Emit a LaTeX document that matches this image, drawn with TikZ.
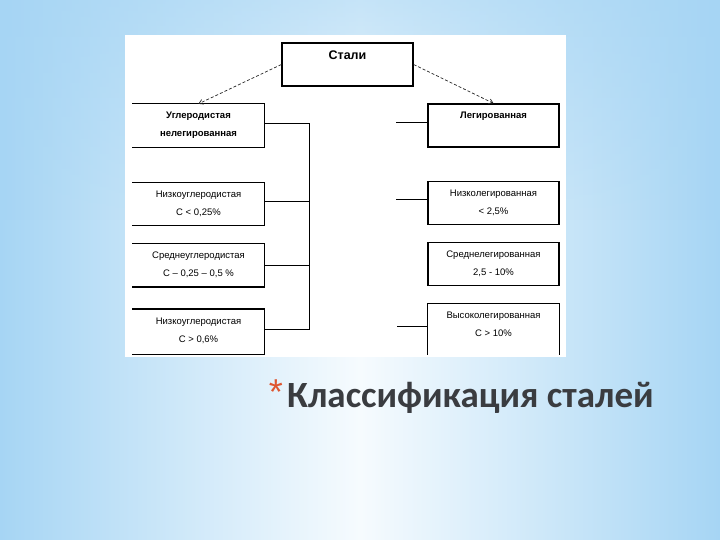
\documentclass[tikz,border=0pt]{standalone}
\usepackage{fontspec}
\setmainfont{Liberation Sans}
\newfontfamily\titlefont{Carlito}
\usepackage{xcolor}
\usetikzlibrary{positioning,arrows.meta,fadings}

\definecolor{bgblue}{RGB}{166,213,244}
\definecolor{bgwhite}{RGB}{246,251,254}
\definecolor{starred}{RGB}{222,86,48}
\definecolor{titlegray}{RGB}{58,60,64}

\newcommand\boxlines[3][43pt]{\parbox[c][#1][t]{131pt}{\centering\rule{0pt}{15pt}#2\\[7pt]#3}}

\begin{document}
\begin{tikzpicture}[
  x=1pt, y=-1pt,
  font=\fontsize{9.5}{11}\selectfont,
  cell/.style={rectangle, inner sep=0pt, minimum width=131pt, minimum height=43pt},
  framed/.style={cell, draw=black, line width=1.3pt},
  edge/.style={line width=1.3pt, line cap=rect},
  link/.style={line width=0.8pt, black},
  arr/.style={line width=0.7pt, densely dashed, black!85, -{Straight Barb[length=4pt,width=5pt]}},
  node distance=35pt,
]
% background and white panel
\shade[left color=bgblue, right color=bgblue, middle color=bgwhite] (0,0) rectangle (720,540);
\fill[bgblue, path fading=south, opacity=.6] (0,0) rectangle (720,220);
\fill[white] (125,35) rectangle (566,357);

% top
\node[framed] (st) at (347.5,64.5) {\parbox[c][43pt][t]{131pt}{\centering\rule{0pt}{17pt}\fontsize{12.5}{14}\selectfont\bfseries Стали}};

% left column (open on the left)
\node[cell] (l1) at (198.5,125.5) {\boxlines{\bfseries Углеродистая}{\bfseries нелегированная}};
\node[cell, below=of l1] (l2) {\boxlines{Низкоуглеродистая}{C < 0,25\%}};
\node[cell, below=18pt of l2] (l3) {\boxlines{Среднеуглеродистая}{C – 0,25 – 0,5 \%}};
\node[cell, below=22pt of l3, minimum height=45pt] (l4) {\boxlines[45pt]{Низкоуглеродистая}{C > 0,6\%}};
\foreach \n in {l1,l2,l3,l4}
  \draw[edge] (\n.north west) -- (\n.north east) -- (\n.south east) -- (\n.south west);

% right column
\node[framed] (r1) at (493.5,125.5) {\boxlines{\bfseries Легированная}{}};
\node[framed, below=33pt of r1] (r2) {\boxlines{Низколегированная}{< 2,5\%}};
\node[framed, below=17pt of r2] (r3) {\boxlines{Среднелегированная}{2,5 - 10\%}};
\node[cell, below=17pt of r3, minimum height=51pt] (r4) {\boxlines[51pt]{Высоколегированная}{C > 10\%}};
\draw[edge] (r4.south west) -- (r4.north west) -- (r4.north east) -- (r4.south east);

% arrows
\draw[arr] (st.west) -- (l1.north);
\draw[arr] (st.east) -- (r1.north);

% left bus
\draw[link] ([yshift=2pt]l1.east) -- ++(45,0) coordinate (bt);
\draw[link] ([yshift=2pt]l4.east) -- ++(45,0) coordinate (bb);
\draw[link] (bt) -- (bb);
\draw[link] ([yshift=2pt]l2.east) -- ([yshift=2pt]l2.east -| bt);
\draw[link] (l3.east) -- (l3.east -| bt);

% right stubs
\foreach \n in {r1,r2,r4}
  \draw[link] ([yshift=3pt]\n.west) -- ++(-31,0);

% title
\node[anchor=base west, inner sep=0pt, text=titlegray, font=\titlefont\bfseries\fontsize{37}{40}\selectfont] (ttl) at (287,407) {Классификация сталей};
\node[text=starred, inner sep=0pt, font=\fontsize{36}{38}\selectfont] (ast) at (276,392) {*};
\end{tikzpicture}
\end{document}
